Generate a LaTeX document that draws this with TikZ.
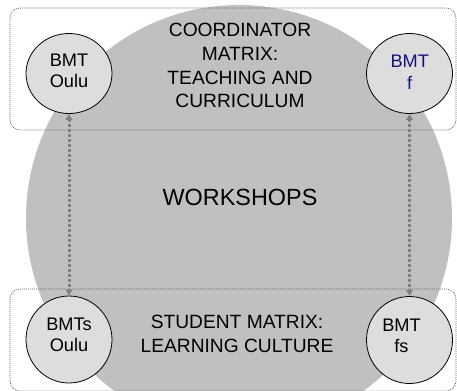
\documentclass[tikz,border=0pt]{standalone}
\usepackage{fontspec}
\setmainfont{Liberation Sans}
\usetikzlibrary{arrows.meta,shapes.geometric}
\definecolor{workshopgray}{RGB}{192,192,192}
\definecolor{bmtgray}{RGB}{221,221,221}
\definecolor{bmtnavy}{RGB}{20,20,120}
\begin{document}
\begin{tikzpicture}[x=1bp, y=-1bp,
	bmt/.style = {draw, ellipse, fill=bmtgray, line width=0.8bp, minimum width=86bp, minimum height=80bp, inner sep=0},
	bmtlabel/.style = {align=center, font=\fontsize{18.2bp}{21.7bp}\selectfont, inner sep=0},
	matrixlabel/.style = {align=center, font=\fontsize{19.2bp}{23.7bp}\selectfont, inner sep=0},
	matrixframe/.style = {draw=gray!80!black, line width=0.7bp, dash pattern=on 1bp off 1bp, rounded corners=10bp},
	link/.style = {draw=gray, line width=3bp, dash pattern=on 3bp off 2bp, {Latex[length=6bp,width=8bp]}-{Latex[length=6bp,width=8bp]}}]
	\clip (0,0) rectangle (457,390);
	\fill[workshopgray] (239,218) circle (213bp);
	\draw[matrixframe] (10,8) rectangle (456,130);
	\draw[matrixframe] (10,289) rectangle (456,391);
	\node[matrixlabel] (coordinator) at (240,65.8) {COORDINATOR\\MATRIX:\\TEACHING AND\\CURRICULUM};
	\node[font=\fontsize{23.4bp}{28bp}\selectfont, inner sep=0] (workshops) at (240,197.3) {WORKSHOPS};
	\node[matrixlabel] (student) at (237,333.8) {STUDENT MATRIX:\\LEARNING CULTURE};
	\node[bmt] (bmtOulu) at (69,73.5) {};
	\node[bmt] (bmtF) at (409.5,73.5) {};
	\node[bmt, minimum height=87bp] (bmtsOulu) at (69,339.5) {};
	\node[bmt, minimum height=87bp] (bmtFs) at (409.5,340) {};
	\node[bmtlabel] (bmtOuluText) at (69,70.8) {BMT\\Oulu};
	\node[bmtlabel, text=bmtnavy] (bmtFText) at (409.7,72.5) {BMT\\f};
	\node[bmtlabel] (bmtsOuluText) at (69,334.8) {BMTs\\Oulu};
	\node[bmtlabel] (bmtFsText) at (401.5,335.8) {BMT\\fs};
	\draw[link] (bmtOulu) -- (bmtsOulu);
	\draw[link] (bmtF) -- (bmtFs);
\end{tikzpicture}
\end{document}
